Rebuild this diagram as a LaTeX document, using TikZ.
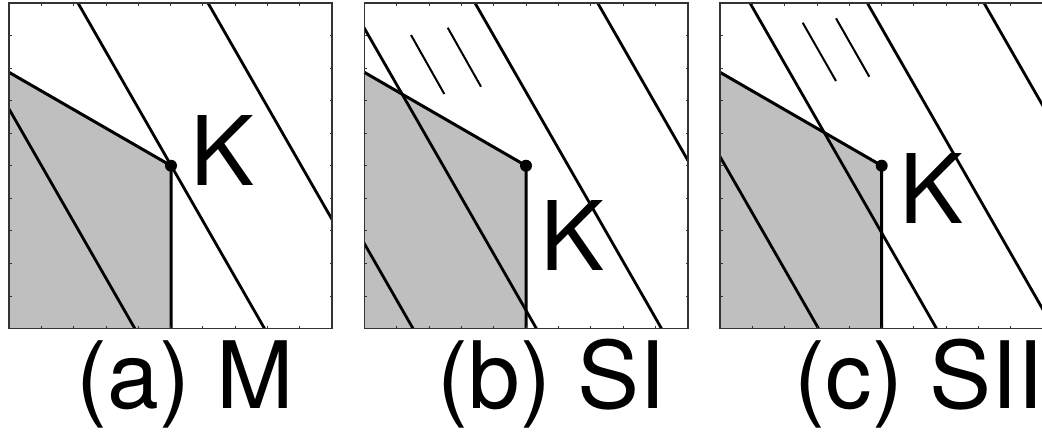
\documentclass[tikz,border=0pt]{standalone}
\usepackage{fontspec}
\setmainfont{TeX Gyre Heros}
\begin{document}
\begin{tikzpicture}[x=1pt,y=-1pt,
  frame/.style={draw=black!80, line width=1.5pt},
  region/.style={fill=black!25, draw=none},
  bound/.style={draw=black, line width=3pt, line join=round},
  iso/.style={draw=black, line width=2.8pt},
  hatch/.style={draw=black, line width=2pt},
  kdot/.style={circle, fill=black, inner sep=0pt, minimum size=12pt},
  klabel/.style={anchor=base, inner sep=0pt, font=\fontsize{96}{100}\selectfont},
  caption/.style={anchor=base, inner sep=0pt, font=\fontsize{93}{100}\selectfont},
  tickmark/.style={draw=black!80, line width=0.8pt}]
\useasboundingbox (0,0) rectangle (1042,432);
\clip (0,0) rectangle (1042,432);

% ---------- panel (a) ----------
\coordinate (Ka) at (171,165.7);
\fill[region] (9,72.3) -- (Ka) -- (171,328.5) -- (9,328.5) -- cycle;
\begin{scope}
  \clip (9,3) rectangle (332,328.5);
  \foreach \x in {-51.7,78,208} \draw[iso] (\x,3) -- ({\x+186.5},328.5);
\end{scope}
\draw[bound] (9,72.3) -- (Ka) -- (171,328.5);
\draw[frame] (9,3) rectangle (332,328.5);
\foreach \i in {1,...,9} {
  \draw[tickmark] ({9+32.3*\i},3) -- ++(0,2.5);
  \draw[tickmark] ({9+32.3*\i},328.5) -- ++(0,-2.5);
  \draw[tickmark] (9,{3+32.55*\i}) -- ++(2.5,0);
  \draw[tickmark] (332,{3+32.55*\i}) -- ++(-2.5,0);
}
\node[kdot] (dota) at (Ka) {};
\node[klabel] (la) at (223,185) {K};
\node[caption] (capa) at (185,408) {(a) M};

% ---------- panel (b) ----------
\coordinate (Kb) at (526,165.7);
\fill[region] (364.3,72.3) -- (Kb) -- (526,328.5) -- (364.3,328.5) -- cycle;
\begin{scope}
  \clip (364.3,3) rectangle (688,328.5);
  \foreach \x in {226.5,349.9,475,597.7} \draw[iso] (\x,3) -- ({\x+186.5},328.5);
\end{scope}
\draw[hatch] (411,35) -- (444.3,94);
\draw[hatch] (447.7,27.7) -- (481,86.7);
\draw[bound] (364.3,72.3) -- (Kb) -- (526,328.5);
\draw[frame] (364.3,3) rectangle (688,328.5);
\foreach \i in {1,...,9} {
  \draw[tickmark] ({364.3+32.37*\i},3) -- ++(0,2.5);
  \draw[tickmark] ({364.3+32.37*\i},328.5) -- ++(0,-2.5);
  \draw[tickmark] (364.3,{3+32.55*\i}) -- ++(2.5,0);
  \draw[tickmark] (688,{3+32.55*\i}) -- ++(-2.5,0);
}
\node[kdot] (dotb) at (Kb) {};
\node[klabel] (lb) at (573,270) {K};
\node[caption] (capb) at (551.5,408) {(b) SI};

% ---------- panel (c) ----------
\coordinate (Kc) at (881.7,165.7);
\fill[region] (720,72.3) -- (Kc) -- (881.7,328.5) -- (720,328.5) -- cycle;
\begin{scope}
  \clip (720,3) rectangle (1043,328.5);
  \foreach \x in {632,750,867.3,984} \draw[iso] (\x,3) -- ({\x+186.5},328.5);
\end{scope}
\draw[hatch] (802.7,22.7) -- (836,81);
\draw[hatch] (836,18.3) -- (869.3,76.7);
\draw[bound] (720,72.3) -- (Kc) -- (881.7,328.5);
\draw[frame] (720,3) rectangle (1043,328.5);
\foreach \i in {1,...,9} {
  \draw[tickmark] ({720+32.3*\i},3) -- ++(0,2.5);
  \draw[tickmark] ({720+32.3*\i},328.5) -- ++(0,-2.5);
  \draw[tickmark] (720,{3+32.55*\i}) -- ++(2.5,0);
}
\node[kdot] (dotc) at (Kc) {};
\node[klabel] (lc) at (931.5,223.3) {K};
\node[caption] (capc) at (919,408) {(c) SII};
\end{tikzpicture}
\end{document}
